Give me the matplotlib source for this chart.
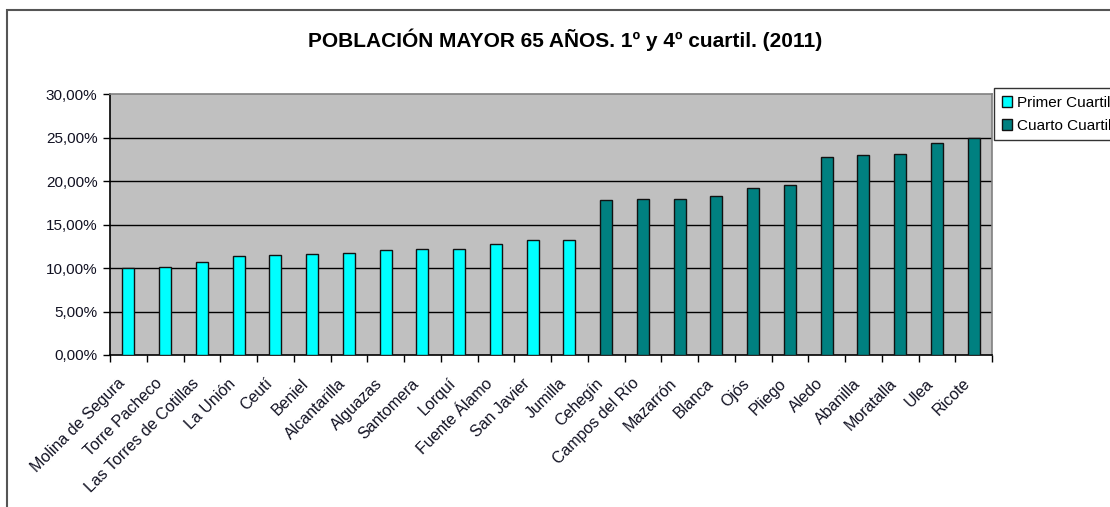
import matplotlib
matplotlib.use("Agg")
import matplotlib.pyplot as plt
from matplotlib.patches import Rectangle, Patch
from matplotlib.ticker import FuncFormatter, MultipleLocator
from matplotlib.transforms import ScaledTranslation
import numpy as np

plt.rcParams['font.family'] = ['Liberation Sans', 'DejaVu Sans']

primer_names = ["Molina de Segura", "Torre Pacheco", "Las Torres de Cotillas", "La Unión",
                "Ceutí", "Beniel", "Alcantarilla", "Alguazas", "Santomera", "Lorquí",
                "Fuente Álamo", "San Javier", "Jumilla"]
primer_vals = [10.0, 10.16, 10.74, 11.35, 11.46, 11.62, 11.77, 12.04, 12.15, 12.15,
               12.76, 13.18, 13.18]

cuarto_names = ["Cehegín", "Campos del Río", "Mazarrón", "Blanca", "Ojós", "Pliego",
                "Aledo", "Abanilla", "Moratalla", "Ulea", "Ricote"]
cuarto_vals = [17.81, 17.96, 17.96, 18.23, 19.22, 19.49, 22.81, 22.97, 23.12, 24.42, 24.95]

legend_labels = ["Primer Cuartil", "Cuarto Cuartil"]
title = "POBLACIÓN MAYOR 65 AÑOS. 1º y 4º cuartil. (2011)"

W, H = 1110, 507
fig = plt.figure(figsize=(W / 100, H / 100), dpi=100)
ax = fig.add_axes([110 / W, 1 - 355 / H, (992 - 110) / W, (355 - 94) / H])
ax.set_facecolor('#C0C0C0')

names = primer_names + cuarto_names
n1 = len(primer_names)
x = np.arange(len(names))
bw = 0.33
ax.bar(x[:n1], primer_vals, width=bw, color='#00FFFF', edgecolor='#111111', linewidth=1.0, zorder=3)
ax.bar(x[n1:], cuarto_vals, width=bw, color='#008080', edgecolor='#111111', linewidth=1.0, zorder=3)

ax.set_xlim(-0.5, len(names) - 0.5)
ax.set_ylim(0, 30)
ax.yaxis.set_major_locator(MultipleLocator(5))
ax.yaxis.set_major_formatter(FuncFormatter(lambda v, p: f"{v:.2f}".replace('.', ',') + "%"))
for yv in range(5, 30, 5):
    ax.axhline(yv, color='black', linewidth=1.0, zorder=1)

ax.set_xticks(x)
ax.set_xticklabels(names, rotation=45, ha='right', rotation_mode='anchor', fontsize=11.5, color='#111122')
ax.tick_params(axis='x', which='major', length=0, pad=7)
offset = ScaledTranslation(-11 / 100, -11 / 100, fig.dpi_scale_trans)
for lbl in ax.get_xticklabels():
    lbl.set_transform(lbl.get_transform() + offset)
ax.set_xticks(np.arange(-0.5, len(names), 1), minor=True)
ax.tick_params(axis='x', which='minor', length=5, width=1, color='black', direction='out')
ax.tick_params(axis='y', length=5, width=1, color='black', direction='out', labelsize=11, labelcolor='#111122', pad=4)

for s in ['top', 'right']:
    ax.spines[s].set_color('#808080')
    ax.spines[s].set_linewidth(1.2)
for s in ['left', 'bottom']:
    ax.spines[s].set_color('black')
    ax.spines[s].set_linewidth(1.2)

fig.text(565 / W, 1 - 40 / H, title, ha='center', va='center', fontsize=15, fontweight='bold', color='black')

# chart border
fig.patches.append(Rectangle((7 / W, -0.05), 1.2, 1 - 10 / H + 0.05, transform=fig.transFigure,
                             fill=False, edgecolor='#555555', linewidth=1.5, zorder=0))

handles = [Patch(facecolor='#00FFFF', edgecolor='#111111'), Patch(facecolor='#008080', edgecolor='#111111')]
leg = fig.legend(handles, legend_labels, loc='upper left', bbox_to_anchor=(994 / W, 1 - 88 / H),
                 frameon=True, fancybox=False, edgecolor='black', fontsize=11,
                 handlelength=0.7, handleheight=0.7, handletextpad=0.3, borderpad=0.5,
                 labelspacing=0.6, borderaxespad=0)
leg.get_frame().set_linewidth(1.0)

fig.savefig('out.png', dpi=100)
